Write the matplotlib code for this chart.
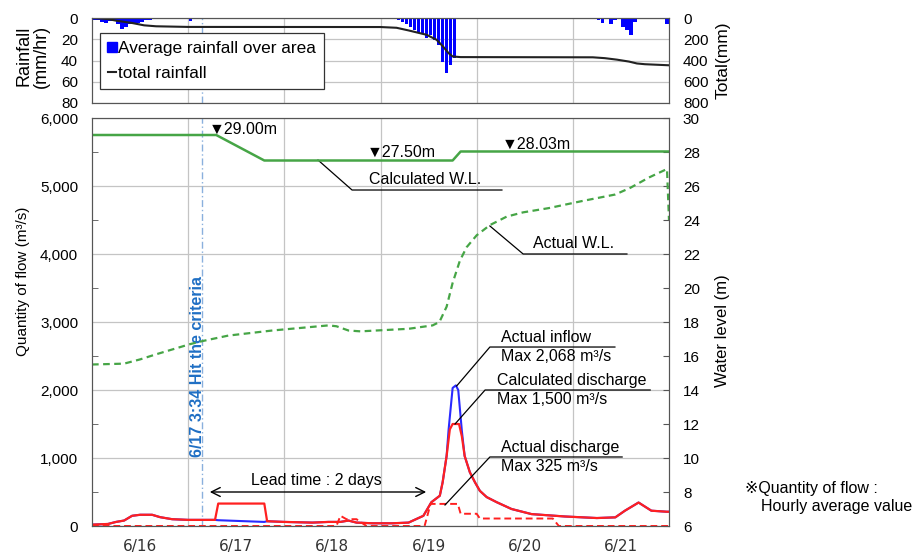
import matplotlib
matplotlib.use('Agg')
import matplotlib.pyplot as plt
from matplotlib.lines import Line2D

plt.rcParams['font.family'] = ['Liberation Sans', 'DejaVu Sans']

# hours counted from 6/16 0:00
day_labels = ['6/16', '6/17', '6/18', '6/19', '6/20', '6/21']

# hourly average rainfall over area (mm/hr)
rain_hours = [0.5, 1.5, 2.5, 3.5, 4.5, 5.5, 6.5, 7.5, 8.5, 9.5, 10.5, 11.5, 12.5, 13.5, 14.5,
              18.5, 19.5, 21.5, 24.5,
              75.5, 76.5, 77.5, 78.5, 79.5, 80.5, 81.5, 82.5, 83.5, 84.5, 85.5, 86.5, 87.5,
              88.5, 89.5, 90.5, 92.5, 93.5,
              126.5, 127.5, 129.5, 130.5, 132.5, 133.5, 134.5, 135.5, 139.5, 143.5]
rain_mm = [1.5, 2, 4, 4.5, 3, 3, 6, 10, 8, 6, 4.5, 5, 4, 2, 1.5,
           1, 1, 0.5, 2.5,
           1, 2, 3.5, 6, 8, 11, 13, 14, 19, 16, 21, 25, 41,
           52, 44, 38, 1, 1,
           2, 5, 6, 2, 8, 11, 16, 4, 1, 6]

# total rainfall (mm)
total_hours = [0, 4, 6, 10, 13, 16, 24, 72, 76, 79, 83.5, 86, 87.6, 89, 90, 92,
               125, 128, 131, 134, 136, 138, 144]
total_mm = [0, 10, 25, 47, 69, 78, 84, 85, 92, 117, 158, 205, 268, 331, 362, 368,
            370, 378, 392, 410, 428, 435, 445]

# calculated water level (m)
calc_wl_hours = [0, 31, 43, 90, 92, 144]
calc_wl = [29.0, 29.0, 27.5, 27.5, 28.03, 28.03]

# actual water level (m)
act_wl_hours = [0, 8, 12, 16, 24.5, 28, 34, 45, 59, 61, 64, 67, 79, 85, 86.7, 88.5, 90,
                91.8, 93.5, 96, 99.3, 103.5, 107.6, 114, 122, 130.6, 134.4, 139, 143.5, 144]
act_wl = [15.5, 15.55, 15.8, 16.1, 16.7, 16.9, 17.2, 17.5, 17.8, 17.75, 17.5, 17.45, 17.6,
          17.8, 18.0, 18.9, 20.3, 21.6, 22.4, 23.1, 23.7, 24.2, 24.45, 24.7, 25.1, 25.5,
          25.9, 26.5, 27.0, 24.0]

# calculated discharge (m3/s)
calc_q_hours = [0, 4, 6, 8, 10, 12, 15, 17, 20, 24, 27.5, 30.7, 31.5, 43, 43.7, 48, 55, 59,
                62, 64, 66, 70, 75, 79, 82.7, 84.7, 86.8, 87.5, 88.5, 89.3, 90, 91.6, 92.3,
                93, 94.3, 95.6, 96.8, 98.5, 101, 104.7, 109.7, 118, 126, 130.6, 133, 136.4,
                139.6, 143.4, 144]
calc_q = [20, 30, 60, 80, 150, 165, 165, 130, 100, 90, 90, 90, 330, 330, 70, 60, 50, 60,
          60, 80, 50, 40, 40, 50, 150, 350, 445, 640, 1030, 1420, 1500, 1500, 1320,
          1030, 790, 640, 517, 425, 350, 250, 175, 140, 117, 127, 225, 345,
          225, 210, 210]

# actual inflow (m3/s)
inflow_hours = [0, 4, 6, 8, 10, 12, 15, 17, 20, 24, 27.5, 30.7, 31.5, 43, 43.7, 48, 55, 59,
                62, 64, 66, 70, 75, 79, 82.7, 84.7, 86.8, 87.5, 88.5, 89.0, 90, 90.8, 91.4,
                92.3, 93, 94.3, 95.6, 96.8, 98.5, 101, 104.7, 109.7, 118, 126, 130.6, 133,
                136.4, 139.6, 143.4, 144]
inflow = [20, 30, 60, 80, 150, 165, 165, 130, 100, 90, 90, 90, 85, 60, 70, 60, 50, 60,
          60, 80, 50, 40, 40, 50, 150, 350, 445, 640, 1030, 1420, 2030, 2068, 2000,
          1400, 1030, 790, 640, 517, 425, 350, 250, 175, 140, 117, 127, 225,
          345, 225, 210, 210]

# actual discharge (m3/s)
act_q_hours = [0, 61, 62, 63.5, 66, 68.5, 83, 84.5, 91.3, 92, 96, 96.8, 115, 116.5, 144]
act_q = [0, 0, 150, 100, 100, 0, 0, 325, 325, 180, 180, 110, 110, 0, 0]

hit_hour = 24 + 3 + 34 / 60

fig = plt.figure(figsize=(9.15, 5.56), dpi=100)
W, H = 915, 556
axr = fig.add_axes([92 / W, 1 - 103 / H, 577 / W, 85 / H])
ax = fig.add_axes([92 / W, 1 - 526 / H, 577 / W, 408 / H])

grid_kw = dict(color='#c4c4c4', lw=0.9)
spine_c = '#555555'

# ---- rainfall panel ----
axr.bar(rain_hours, rain_mm, width=0.8, color='#0000ff', zorder=2)
axr.set_ylim(80, 0)
axr.set_xlim(0, 144)
axr.set_yticks([0, 20, 40, 60, 80])
axr.set_xticks([])
axr.set_xticks([24, 48, 72, 96, 120], minor=True)
axr.tick_params(axis='x', which='minor', length=0)
axr.grid(which='minor', axis='x', **grid_kw)
axr.grid(which='major', axis='y', **grid_kw)
axr.set_axisbelow(True)
axr.tick_params(axis='y', labelsize=11, length=0, pad=10)
axr.axvline(hit_hour, color='#8ab0dd', lw=1, ls=(0, (5, 2, 1, 2)), zorder=1)
axr.set_ylabel('Rainfall\n(mm/hr)', fontsize=13, linespacing=1.0)
axr.yaxis.set_label_coords(-0.073, 0.55)

axt = axr.twinx()
axt.plot(total_hours, total_mm, color='#222222', lw=1.5)
axt.set_ylim(800, 0)
axt.set_yticks([0, 200, 400, 600, 800])
axt.tick_params(axis='y', labelsize=11, length=0, pad=10)
axt.set_ylabel('Total(mm)', fontsize=12.5)
axt.yaxis.set_label_coords(1.080, 0.5)
for a in (axr, axt):
    for s in a.spines.values():
        s.set_color(spine_c)

handles = [Line2D([], [], marker='s', color='#0000ff', ls='none', markersize=7.5),
           Line2D([], [], color='#222222', lw=1.5)]
leg = axr.legend(handles, ['Average rainfall over area', 'total rainfall'],
                 loc='upper left', bbox_to_anchor=(0.014, 0.824), fontsize=12.4,
                 handlelength=0.5, handletextpad=0.1, labelspacing=0.6,
                 borderpad=0.45, borderaxespad=0, fancybox=False,
                 edgecolor='#333333', framealpha=1)
leg.get_frame().set_linewidth(0.9)

# ---- flow / water level panel ----
ax.set_xlim(0, 144)
ax.set_ylim(0, 6000)
ax.set_yticks(range(0, 6001, 1000))
ax.set_yticklabels([f'{v:,}' for v in range(0, 6001, 1000)])
ax.set_yticks(range(500, 6000, 1000), minor=True)
ax.tick_params(axis='y', which='major', labelsize=11, length=0, pad=10)
ax.tick_params(axis='y', which='minor', direction='in', length=4, color=spine_c)
ax.set_xticks([12, 36, 60, 84, 108, 132])
ax.set_xticklabels(day_labels, family='DejaVu Sans', color='#333333')
ax.set_xticks([24, 48, 72, 96, 120], minor=True)
ax.tick_params(axis='x', which='both', length=0, labelsize=11, pad=9)
ax.grid(which='minor', axis='x', **grid_kw)
ax.grid(which='major', axis='y', **grid_kw)
ax.set_axisbelow(True)
ax.set_ylabel('Quantity of flow (m³/s)', fontsize=11)
ax.yaxis.set_label_coords(-0.107, 0.60)

ax.axvline(hit_hour, color='#8ab0dd', lw=1, ls=(0, (5, 2, 1, 2)), zorder=1)
ax.text(hit_hour - 1.2, 1015, '6/17 3:34 Hit the criteria', rotation=90,
        ha='center', va='bottom', color='#1f6fc4', fontsize=11.5, fontweight='bold')

ax.plot(inflow_hours, inflow, color='#2a2aff', lw=1.5, zorder=3)
ax.plot(calc_q_hours, calc_q, color='#ff2020', lw=1.6, zorder=4)
ax.plot(act_q_hours, act_q, color='#ff2020', lw=1.4, ls=(0, (3.5, 2)), zorder=4)

ax2 = ax.twinx()
ax2.plot(calc_wl_hours, calc_wl, color='#46a546', lw=1.8)
ax2.plot(act_wl_hours, act_wl, color='#46a546', lw=1.6, ls=(0, (3, 2)))
ax2.set_ylim(6, 30)
ax2.set_yticks(range(6, 31, 2))
ax2.tick_params(axis='y', labelsize=11, direction='in', length=4, pad=10, color=spine_c)
ax2.set_ylabel('Water level (m)', fontsize=12)
ax2.yaxis.set_label_coords(1.080, 0.478)
for a in (ax, ax2):
    for s in a.spines.values():
        s.set_color(spine_c)

# water level marks
ax.text(29.2, 5838, '▼29.00m', fontsize=11.5, va='center', ha='left')
ax.text(68.6, 5493, '▼27.50m', fontsize=11.5, va='center', ha='left')
ax.text(102.3, 5618, '▼28.03m', fontsize=11.5, va='center', ha='left')

# leader lines and labels
lk = dict(color='black', lw=0.9, zorder=6)
ax.plot([56.4, 64.9, 102.3], [5382, 4941, 4941], **lk)
ax.text(83.1, 4990, 'Calculated W.L.', fontsize=11.5, ha='center', va='bottom')
ax.plot([99.3, 107.6, 133.5], [4412, 4000, 4000], **lk)
ax.text(120.3, 4040, 'Actual W.L.', fontsize=11.5, ha='center', va='bottom')

ax.plot([91.0, 99.3, 130.5], [2059, 2632, 2632], **lk)
ax.text(102.1, 2660, 'Actual inflow', fontsize=11.5, ha='left', va='bottom')
ax.text(102.1, 2600, 'Max 2,068 m³/s', fontsize=11.5, ha='left', va='top')
ax.plot([90.6, 98.1, 139.3], [1500, 2000, 2000], **lk)
ax.text(101.0, 2030, 'Calculated discharge', fontsize=11.5, ha='left', va='bottom')
ax.text(101.0, 1970, 'Max 1,500 m³/s', fontsize=11.5, ha='left', va='top')
ax.plot([88.1, 99.3, 132.3], [309, 1015, 1015], **lk)
ax.text(102.1, 1045, 'Actual discharge', fontsize=11.5, ha='left', va='bottom')
ax.text(102.1, 985, 'Max 325 m³/s', fontsize=11.5, ha='left', va='top')

ax.annotate('', xy=(29.4, 500), xytext=(83.4, 500),
            arrowprops=dict(arrowstyle='<->', color='black', lw=1, mutation_scale=16,
                            shrinkA=0, shrinkB=0))
ax.text(55.9, 560, 'Lead time : 2 days', fontsize=11.5, ha='center', va='bottom')

fig.text(745 / W, 1 - 488 / H, '※Quantity of flow :', fontsize=11.5, va='center')
fig.text(761 / W, 1 - 507 / H, 'Hourly average value', fontsize=11.5, va='center')

fig.savefig('out.png', dpi=100)
